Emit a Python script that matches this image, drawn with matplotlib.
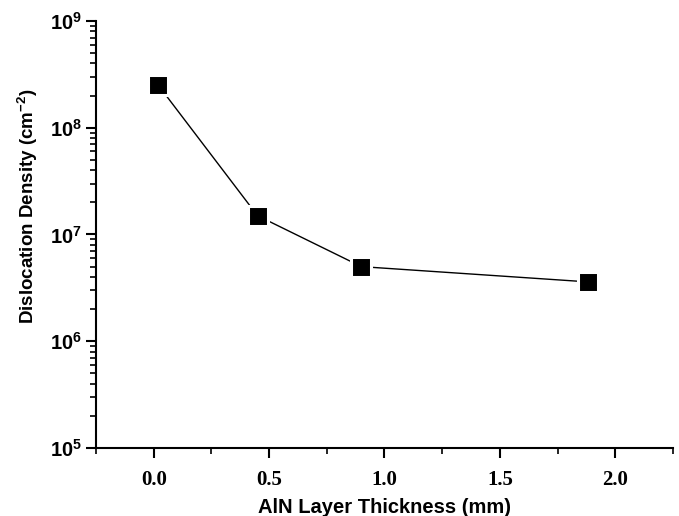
import matplotlib
matplotlib.use("Agg")
import matplotlib.pyplot as plt
from matplotlib.ticker import FixedLocator, FixedFormatter, LogLocator, NullFormatter, MultipleLocator

thickness = [0.02, 0.45, 0.90, 1.88]
density = [2.5e8, 1.5e7, 5.0e6, 3.6e6]
x_ticks = [0.0, 0.5, 1.0, 1.5, 2.0]
x_tick_labels = ["0.0", "0.5", "1.0", "1.5", "2.0"]
y_ticks = [1e5, 1e6, 1e7, 1e8, 1e9]
y_tick_labels = [r"$\mathbf{10^{5}}$", r"$\mathbf{10^{6}}$", r"$\mathbf{10^{7}}$",
                 r"$\mathbf{10^{8}}$", r"$\mathbf{10^{9}}$"]
x_label = "AlN Layer Thickness (mm)"
y_label = "Dislocation Density (cm$^{-2}$)"

plt.rcParams["mathtext.fontset"] = "custom"
plt.rcParams["mathtext.rm"] = "Liberation Sans:bold"
plt.rcParams["mathtext.bf"] = "Liberation Sans:bold"
plt.rcParams["mathtext.it"] = "Liberation Sans:bold"

fig = plt.figure(figsize=(6.79, 5.16), dpi=100)
ax = fig.add_axes([0.1414, 0.1318, 0.991 - 0.1414, 0.9593 - 0.1318])

ax.plot(thickness, density, color="black", lw=1.0, marker="s", markersize=15,
        markerfacecolor="black", markeredgecolor="white", markeredgewidth=2.2)

ax.set_yscale("log")
ax.set_xlim(-0.25, 2.25)
ax.set_ylim(1e5, 1e9)

for s in ["top", "right"]:
    ax.spines[s].set_visible(False)
for s in ["left", "bottom"]:
    ax.spines[s].set_linewidth(1.5)

ax.xaxis.set_major_locator(FixedLocator(x_ticks))
ax.xaxis.set_major_formatter(FixedFormatter(x_tick_labels))
ax.xaxis.set_minor_locator(MultipleLocator(0.25))
ax.yaxis.set_major_locator(FixedLocator(y_ticks))
ax.yaxis.set_major_formatter(FixedFormatter(y_tick_labels))
ax.yaxis.set_minor_locator(LogLocator(base=10, subs=range(2, 10)))
ax.yaxis.set_minor_formatter(NullFormatter())

ax.tick_params(axis="both", which="major", direction="out", length=7, width=1.5)
ax.tick_params(axis="both", which="minor", direction="out", length=4, width=1.2)
ax.tick_params(axis="x", which="major", pad=9)
ax.tick_params(axis="y", which="major", labelsize=14.5, pad=3)

for lab in ax.get_xticklabels():
    lab.set_fontfamily("Liberation Serif")
    lab.set_fontweight("bold")
    lab.set_fontsize(15)

ax.set_xlabel(x_label, fontfamily="Liberation Sans", fontweight="bold", fontsize=14.5)
ax.xaxis.set_label_coords(0.5, -0.117)
ax.set_ylabel(y_label, fontfamily="Liberation Sans", fontweight="bold", fontsize=13.5)
ax.yaxis.set_label_coords(-0.097, 0.567)

fig.savefig("out.png", dpi=100)
